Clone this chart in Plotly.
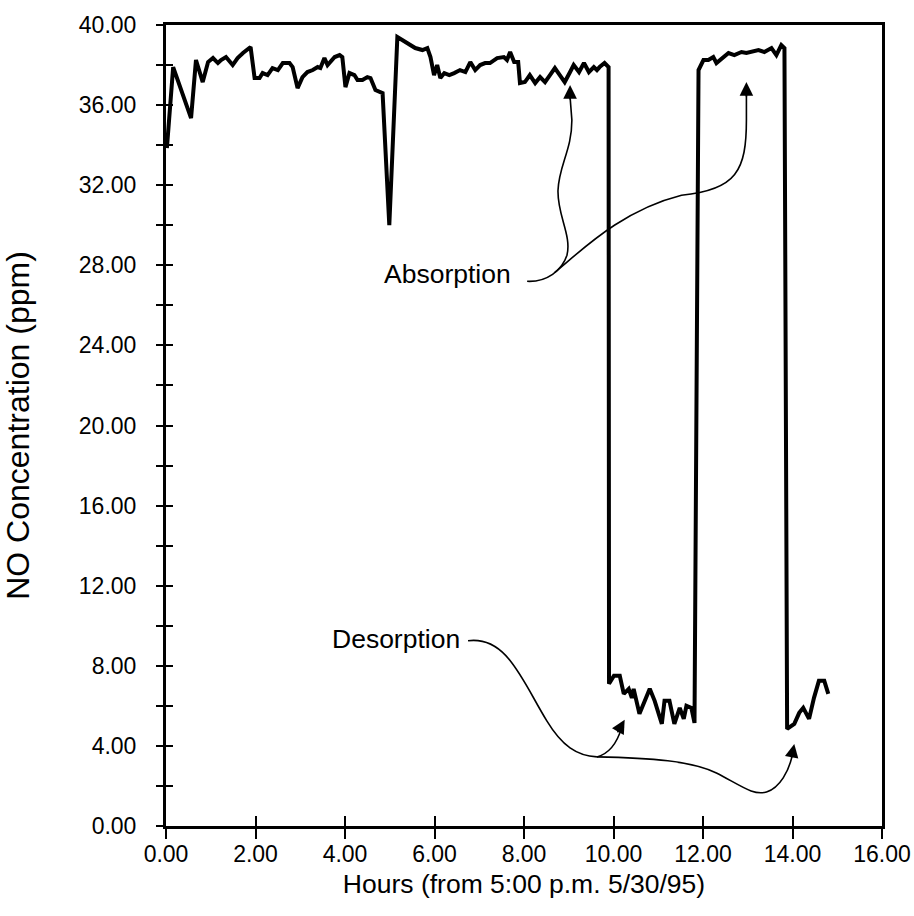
import plotly.graph_objects as go

# ---- data ----
hours = [0.02, 0.16, 0.56, 0.67, 0.82, 0.94, 1.05, 1.16, 1.23, 1.34, 1.49, 1.60, 1.72, 1.89, 1.98,
         2.09, 2.16, 2.27, 2.38, 2.50, 2.61, 2.76, 2.83, 2.94, 3.05, 3.16, 3.28, 3.39, 3.45, 3.54,
         3.61, 3.77, 3.88, 3.94, 4.01, 4.10, 4.21, 4.28, 4.39, 4.50, 4.57, 4.68, 4.84, 4.99, 5.17,
         5.44, 5.57, 5.73, 5.84, 5.91, 5.99, 6.06, 6.13, 6.22, 6.33, 6.44, 6.57, 6.69, 6.80, 6.91,
         7.02, 7.13, 7.24, 7.40, 7.55, 7.62, 7.69, 7.78, 7.87, 7.91, 8.02, 8.13, 8.25, 8.36, 8.47,
         8.58, 8.69, 8.80, 8.91, 9.03, 9.11, 9.23, 9.34, 9.45, 9.56, 9.63, 9.69, 9.80, 9.89, 9.90,
         10.01, 10.14, 10.23, 10.34, 10.41, 10.45, 10.58, 10.70, 10.81, 10.92, 11.08, 11.14, 11.25,
         11.36, 11.48, 11.57, 11.63, 11.74, 11.81, 11.90, 12.01, 12.12, 12.23, 12.30, 12.46, 12.57,
         12.70, 12.86, 12.97, 13.08, 13.24, 13.37, 13.53, 13.64, 13.75, 13.82, 13.88, 14.04, 14.15,
         14.24, 14.37, 14.48, 14.59, 14.71, 14.80]
no_ppm = [33.85, 37.9, 35.35, 38.25, 37.15, 38.15, 38.35, 38.1, 38.25, 38.4, 38.0, 38.35, 38.6, 38.9, 37.35,
          37.35, 37.6, 37.5, 37.85, 37.75, 38.1, 38.1, 37.9, 36.85, 37.4, 37.65, 37.75, 37.9, 37.85, 38.35,
          38.0, 38.4, 38.5, 38.4, 36.9, 37.6, 37.5, 37.25, 37.25, 37.4, 37.35, 36.75, 36.6, 30.0, 39.4,
          39.0, 38.85, 38.75, 38.85, 38.4, 37.5, 38.0, 37.35, 37.6, 37.5, 37.6, 37.75, 37.65, 38.15, 37.75,
          38.0, 38.1, 38.1, 38.35, 38.4, 38.25, 38.65, 38.15, 38.15, 37.1, 37.15, 37.5, 37.1, 37.4, 37.15,
          37.5, 37.85, 37.5, 37.15, 37.65, 38.0, 37.65, 38.1, 37.65, 37.9, 37.75, 37.9, 38.1, 37.9, 7.1,
          7.5, 7.5, 6.6, 6.85, 6.4, 6.85, 5.6, 6.25, 6.85, 6.25, 5.1, 6.25, 6.25,
          5.1, 5.9, 5.35, 6.0, 5.9, 5.15, 37.75, 38.25, 38.25, 38.4, 38.1, 38.4, 38.6,
          38.5, 38.65, 38.6, 38.65, 38.75, 38.65, 38.85, 38.5, 39.0, 38.85, 4.85, 5.1, 5.65,
          5.9, 5.35, 6.4, 7.25, 7.25, 6.6]

x_range = [0, 16]
y_range = [0, 40]
x_title = "Hours (from 5:00 p.m. 5/30/95)"
y_title = "NO Concentration (ppm)"
absorption_label = "Absorption"
desorption_label = "Desorption"

FONT = "Liberation Sans, Arial, Helvetica, sans-serif"

fig = go.Figure()
fig.add_trace(go.Scatter(x=hours, y=no_ppm, mode="lines",
                         line=dict(color="black", width=4), showlegend=False,
                         hoverinfo="x+y"))
# dummy trace to activate overlay axes carrying the inward half of the ticks
fig.add_trace(go.Scatter(x=[0], y=[0], xaxis="x2", yaxis="y2", mode="markers",
                         marker=dict(opacity=0), showlegend=False, hoverinfo="skip"))

# ---- annotation connector curves (data coordinates) ----
curve_style = dict(color="black", width=1.6)
paths = [
    # Absorption
    "M 8.07,27.2 C 8.51,27.15 8.85,27.75 8.96,28.5 C 9.07,29.5 8.74,30.5 8.76,31.75 "
    "C 8.78,33.0 9.07,33.75 9.07,35.25 L 9.03,36.4",
    "M 8.69,27.65 C 9.29,28.75 10.18,30.75 11.52,31.5 C 12.75,31.75 12.97,32.75 12.97,35.25 L 12.97,36.5",
    # Desorption
    "M 6.75,9.25 C 7.62,9.5 7.96,7.25 8.51,5.25 C 8.85,4.0 9.18,3.5 9.63,3.45",
    "M 9.63,3.45 C 9.96,3.65 10.10,4.3 10.18,4.9",
    "M 9.63,3.45 C 10.85,3.4 11.74,3.25 12.30,2.65 C 12.86,2.0 13.13,1.5 13.42,1.7 "
    "C 13.71,1.9 13.93,2.75 14.0,3.6",
]
for p in paths:
    fig.add_shape(type="path", path=p, xref="x", yref="y", line=curve_style)

arrow_common = dict(text="", showarrow=True, arrowhead=2, arrowsize=1.7, arrowwidth=1.6,
                    arrowcolor="black", xref="x", yref="y", standoff=0)
fig.add_annotation(x=9.03, y=37.0, ax=0, ay=16, **arrow_common)
fig.add_annotation(x=12.97, y=37.15, ax=0, ay=16, **arrow_common)
fig.add_annotation(x=10.25, y=5.3, ax=-8, ay=14, **arrow_common)
fig.add_annotation(x=14.04, y=4.1, ax=-3, ay=15, **arrow_common)

fig.add_annotation(x=6.28, y=27.55, text=absorption_label, showarrow=False,
                   font=dict(family=FONT, size=26.5, color="black"), xref="x", yref="y")
fig.add_annotation(x=5.15, y=9.35, text=desorption_label, showarrow=False,
                   font=dict(family=FONT, size=26.5, color="black"), xref="x", yref="y")

tickfont = dict(family=FONT, size=23, color="black")
fig.update_layout(
    width=914, height=916,
    margin=dict(l=166, r=32, t=25, b=90),
    paper_bgcolor="white", plot_bgcolor="white",
    font=dict(family=FONT, color="black"),
    xaxis=dict(range=x_range, tick0=0, dtick=2, tickformat=".2f", automargin=False,
               ticks="outside", ticklen=10, tickwidth=2, tickcolor="black",
               showline=True, linewidth=3, linecolor="black", mirror=True,
               showgrid=False, zeroline=False, tickfont=tickfont,
               ticklabelstandoff=-5,
               title=dict(text=x_title, font=dict(family=FONT, size=26.5), standoff=9)),
    yaxis=dict(range=y_range, tick0=0, dtick=4, tickformat=".2f", automargin=False,
               ticks="outside", ticklen=7, tickwidth=2, tickcolor="black",
               minor=dict(tick0=0, dtick=2, ticks="outside", ticklen=7, tickwidth=2,
                          tickcolor="black", showgrid=False),
               showline=True, linewidth=3, linecolor="black", mirror=True,
               showgrid=False, zeroline=False, tickfont=tickfont,
               ticklabelstandoff=15,
               title=dict(text=y_title, font=dict(family=FONT, size=32), standoff=41)),
    xaxis2=dict(overlaying="x", anchor="y", range=x_range, tick0=0, dtick=2, automargin=False,
                ticks="inside", ticklen=10, tickwidth=2, tickcolor="black",
                showticklabels=False, showline=False, showgrid=False, zeroline=False),
    yaxis2=dict(overlaying="y", anchor="x", range=y_range, tick0=0, dtick=2, automargin=False,
                ticks="inside", ticklen=7, tickwidth=2, tickcolor="black",
                showticklabels=False, showline=False, showgrid=False, zeroline=False),
)

fig.write_html("out.html")
